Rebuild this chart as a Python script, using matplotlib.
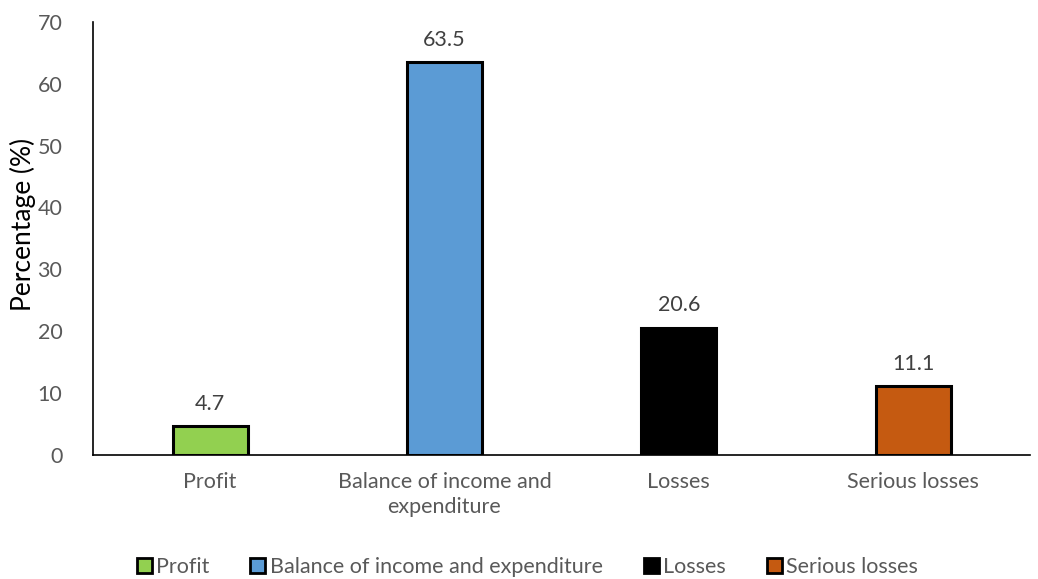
import matplotlib
matplotlib.use("Agg")
import matplotlib.pyplot as plt
from matplotlib.patches import Patch

categories = ["Profit", "Balance of income and expenditure", "Losses", "Serious losses"]
tick_labels = ["Profit", "Balance of income and\nexpenditure", "Losses", "Serious losses"]
values = [4.7, 63.5, 20.6, 11.1]
colors = ["#92D050", "#5B9BD5", "#000000", "#C55A11"]
y_ticks = [0, 10, 20, 30, 40, 50, 60, 70]

plt.rcParams['font.family'] = ['Lato', 'DejaVu Sans']
txt = "#595959"
fs = 15.5

fig = plt.figure(figsize=(10.38, 5.79), dpi=100)
ax = fig.add_axes([0.0896, 0.2142, 0.903, 0.748])

x = list(range(len(categories)))
bars = ax.bar(x, values, width=0.32, color=colors, edgecolor="black", linewidth=2.2, zorder=3)
for xi, v in zip(x, values):
    ax.text(xi, v + 2.0, f"{v}", ha="center", va="bottom", fontsize=fs, color="#404040")

ax.set_xlim(-0.5, len(categories) - 0.5)
ax.set_ylim(0, 70)
ax.set_yticks(y_ticks)
ax.set_xticks(x)
ax.set_xticklabels(tick_labels, fontsize=fs, color=txt, linespacing=1.35)
ax.tick_params(axis='y', labelsize=fs, labelcolor=txt, length=0, pad=22)
ax.tick_params(axis='x', length=0, pad=12)
for s in ["top", "right"]:
    ax.spines[s].set_visible(False)
ax.spines["left"].set_color("black")
ax.spines["bottom"].set_color("black")
ax.spines["left"].set_linewidth(1.2)
ax.spines["bottom"].set_linewidth(1.2)
ax.set_ylabel("Percentage (%)", fontsize=19, color="black")
ax.yaxis.set_label_coords(-0.061, 0.533)

handles = [Patch(facecolor=c, edgecolor="black", linewidth=2) for c in colors]
fig.legend(handles, categories, loc="center", bbox_to_anchor=(0.508, 0.02), ncol=4,
           frameon=False, fontsize=fs, labelcolor=txt, handlelength=0.7, handleheight=0.7,
           handletextpad=0.2, columnspacing=1.9)

fig.savefig("out.png", dpi=100)
